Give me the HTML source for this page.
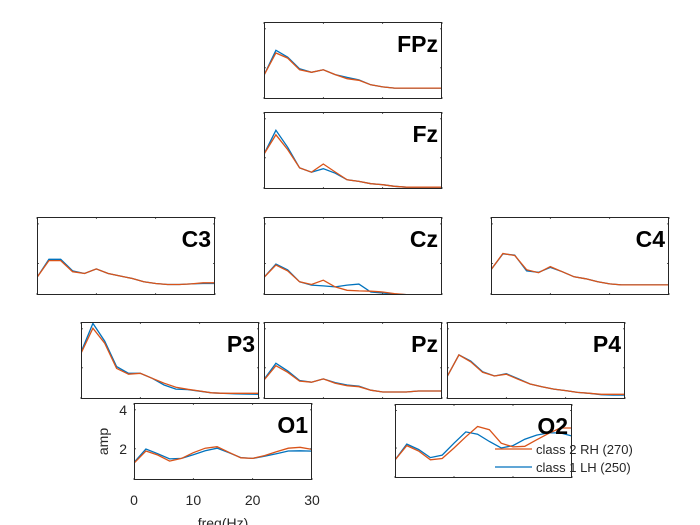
<!DOCTYPE html>
<html><head><meta charset="utf-8">
<style>
html,body{margin:0;padding:0;background:#fff;}
svg{display:block;font-family:"Liberation Sans",Arial,sans-serif;}
</style></head>
<body>
<svg id="chart" width="700" height="525" viewBox="0 0 700 525" xmlns="http://www.w3.org/2000/svg"></svg>
<script>
const freqs=[0,2,4,6,8,10,12,14,16,18,20,22,24,26,28,30];
const xTicks=[0,10,20,30];
const yTicks=[2,4];
const channels=["FPz","Fz","C3","Cz","C4","P3","Pz","P4","O1","O2"];
const rhFPz=[1.62,2.76,2.50,1.90,1.77,1.90,1.65,1.44,1.36,1.13,1.02,0.96,0.96,0.96,0.96,0.96];
const lhFPz=[1.62,2.90,2.55,1.95,1.77,1.90,1.65,1.51,1.38,1.13,1.02,0.96,0.96,0.96,0.96,0.96];
const rhFz=[2.19,3.18,2.42,1.48,1.26,1.68,1.27,0.87,0.79,0.67,0.62,0.54,0.49,0.49,0.49,0.49];
const lhFz=[2.19,3.41,2.54,1.48,1.26,1.44,1.21,0.87,0.79,0.67,0.62,0.54,0.49,0.49,0.49,0.49];
const rhC3=[1.29,2.14,2.14,1.58,1.49,1.72,1.49,1.36,1.24,1.07,0.98,0.93,0.93,0.96,1.02,1.02];
const lhC3=[1.29,2.21,2.21,1.62,1.49,1.72,1.49,1.36,1.24,1.07,0.98,0.93,0.93,0.96,0.98,0.98];
const rhCz=[1.29,1.92,1.62,1.07,0.93,1.15,0.81,0.64,0.61,0.59,0.55,0.47,0.42,0.42,0.42,0.42];
const lhCz=[1.29,1.97,1.67,1.07,0.90,0.86,0.81,0.90,0.95,0.55,0.50,0.44,0.42,0.42,0.42,0.42];
const rhC4=[1.68,2.50,2.40,1.68,1.53,1.84,1.58,1.32,1.22,1.07,0.96,0.91,0.91,0.91,0.91,0.91];
const lhC4=[1.68,2.48,2.42,1.62,1.55,1.80,1.58,1.32,1.22,1.07,0.96,0.91,0.91,0.91,0.91,0.91];
const rhP3=[2.74,4.03,3.26,1.97,1.67,1.72,1.46,1.21,1.00,0.90,0.81,0.72,0.69,0.69,0.69,0.69];
const lhP3=[2.80,4.28,3.37,2.06,1.72,1.72,1.46,1.12,0.91,0.88,0.80,0.72,0.69,0.66,0.65,0.64];
const rhPz=[1.37,2.11,1.77,1.32,1.26,1.43,1.21,1.08,1.03,0.85,0.76,0.76,0.76,0.81,0.81,0.81];
const lhPz=[1.40,2.23,1.84,1.35,1.26,1.43,1.24,1.12,1.06,0.85,0.76,0.76,0.76,0.81,0.81,0.81];
const rhP4=[1.54,2.66,2.31,1.77,1.58,1.67,1.41,1.17,1.03,0.91,0.83,0.74,0.69,0.64,0.64,0.64];
const lhP4=[1.54,2.66,2.35,1.80,1.58,1.70,1.44,1.17,1.03,0.91,0.83,0.74,0.69,0.62,0.60,0.60];
const rhO1=[1.26,1.89,1.68,1.37,1.51,1.80,2.03,2.11,1.82,1.54,1.51,1.65,1.85,2.03,2.08,1.97];
const lhO1=[1.30,1.99,1.75,1.48,1.51,1.70,1.90,2.03,1.80,1.55,1.51,1.62,1.75,1.89,1.90,1.88];
const rhO2=[1.36,2.13,1.84,1.37,1.44,2.00,2.60,3.15,2.98,2.26,2.06,2.09,2.44,2.77,3.07,3.07];
const lhO2=[1.36,2.21,1.92,1.49,1.62,2.26,2.86,2.74,2.35,2.00,2.13,2.47,2.69,2.81,2.81,2.64];
const legendLabels=["class 2 RH (270)","class 1 LH (250)"];
</script>
<script>
const NS="http://www.w3.org/2000/svg";
const svg=document.getElementById('chart');
const RH="#d95319", LH="#0072bd";
const boxes={FPz:[264,22,178,77],Fz:[264,112,178,77],C3:[37,217,178,78],Cz:[264,217,178,78],C4:[491,217,178,78],
P3:[81,322,178,77],Pz:[264,322,178,77],P4:[447,322,178,77],O1:[134,403,178,77],O2:[395,404,177,74]};
const series={FPz:[rhFPz,lhFPz],Fz:[rhFz,lhFz],C3:[rhC3,lhC3],Cz:[rhCz,lhCz],C4:[rhC4,lhC4],P3:[rhP3,lhP3],Pz:[rhPz,lhPz],P4:[rhP4,lhP4],O1:[rhO1,lhO1],O2:[rhO2,lhO2]};
const YMIN=0.4,YMAX=4.35,XMIN=0,XMAX=30;
function mk(tag,attrs,parent){const e=document.createElementNS(NS,tag);for(const k in attrs)e.setAttribute(k,attrs[k]);(parent||svg).appendChild(e);return e;}
channels.forEach(ch=>{
  const [bx,by,bw,bh]=boxes[ch];
  const sx=v=>bx+(v-XMIN)/(XMAX-XMIN)*bw;
  const sy=v=>by+bh-(v-YMIN)/(YMAX-YMIN)*bh;
  const g=mk('g',{});
  
  
  const clipId='clip'+ch;
  const cp=mk('clipPath',{id:clipId},g);mk('rect',{x:bx,y:by,width:bw,height:bh},cp);
  mk('rect',{x:bx,y:by,width:bw,height:bh,fill:'#fff'},g);
  const lg=mk('g',{'clip-path':'url(#'+clipId+')'},g);
  [[1,LH,'lh'],[0,RH,'rh']].forEach(([i,c,n])=>{
    const d=series[ch][i].map((v,k)=>(k?'L':'M')+sx(freqs[k]).toFixed(1)+' '+sy(v).toFixed(1)).join(' ');
    const p=mk('path',{d:d,fill:'none',stroke:c,'stroke-width':1.3},lg);
    
    
  });
  xTicks.forEach(t=>{const x=sx(t);mk('line',{x1:x,y1:by+bh,x2:x,y2:by+bh-2,stroke:'#333','stroke-width':0.8},g);mk('line',{x1:x,y1:by,x2:x,y2:by+2,stroke:'#333','stroke-width':0.8},g);});
  yTicks.forEach(t=>{const y=sy(t);mk('line',{x1:bx,y1:y,x2:bx+2,y2:y,stroke:'#333','stroke-width':0.8},g);mk('line',{x1:bx+bw,y1:y,x2:bx+bw-2,y2:y,stroke:'#333','stroke-width':0.8},g);});
  mk('rect',{x:bx+0.5,y:by+0.5,width:bw-1,height:bh-1,fill:'none',stroke:'#262626','stroke-width':1},g);
  const tt=mk('text',{x:bx+bw-4,y:by+30,'text-anchor':'end','font-size':23,'font-weight':'bold',fill:'#000'},g);
  tt.textContent=ch;
  
  
  if(ch==='O1'){
    yTicks.forEach(t=>{const e=mk('text',{x:bx-7,y:sy(t)+5,'text-anchor':'end','font-size':14,fill:'#262626'},g);e.textContent=t;
      
      });
    xTicks.forEach(t=>{const e=mk('text',{x:sx(t),y:by+bh+25,'text-anchor':'middle','font-size':14,fill:'#262626'},g);e.textContent=t;
      
      });
    const yl=mk('text',{x:0,y:0,transform:'translate(108,'+(by+bh/2)+') rotate(-90)','text-anchor':'middle','font-size':14,fill:'#262626'},g);
    yl.textContent='amp';
    
    
    const xl=mk('text',{x:bx+bw/2,y:by+bh+48,'text-anchor':'middle','font-size':14,fill:'#262626'},g);
    xl.textContent='freq(Hz)';
    
    
  }
});
const leg=mk('g',{});


[[RH,449],[LH,467]].forEach(([c,y],i)=>{
  const e=mk('g',{},leg);
  
  
  mk('line',{x1:495,y1:y,x2:532,y2:y,stroke:c,'stroke-width':1.2},e);
  const t=mk('text',{x:536,y:y+5,'font-size':13,fill:'#262626'},e);t.textContent=legendLabels[i];
});
</script>
</body></html>
